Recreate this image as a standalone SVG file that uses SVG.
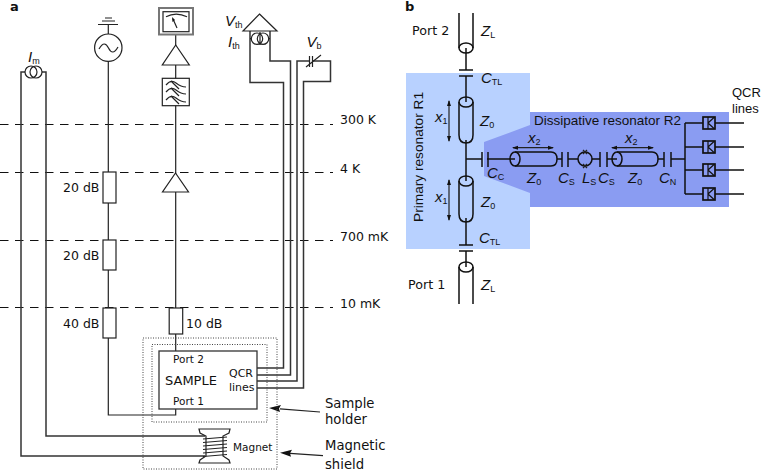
<svg xmlns="http://www.w3.org/2000/svg" width="763" height="471" viewBox="0 0 763 471">
<style>
text{font-family:"DejaVu Sans",sans-serif;fill:#111}
.l{font-size:12.500px}
.m{font-size:13.200px}
.h{font-family:"Liberation Sans",Arial,sans-serif;font-size:13px}
.i{font-family:"Liberation Sans",Arial,sans-serif;font-style:italic;font-size:15px}
.s{font-family:"Liberation Sans",Arial,sans-serif;font-size:9px;font-style:normal}
.p{font-weight:bold;font-size:13px}
.w{fill:none;stroke:#222;stroke-width:1.200}
.g{fill:none;stroke:#333;stroke-width:1.500}
.b{fill:none;stroke:#111;stroke-width:1.500}
.bx{fill:#fff;stroke:#222;stroke-width:1.200}
.dash{fill:none;stroke:#111;stroke-width:1;stroke-dasharray:8.500 6.500}
.dot{fill:none;stroke:#444;stroke-width:1;stroke-dasharray:1 1.500}
.t{fill:none;stroke:#111;stroke-width:1.500}
</style>
<defs>
<g id="jj"><rect x="-6" y="-6" width="12" height="12" fill="none" stroke="#111" stroke-width="1.700"/><path d="M-1 -6V6M-1 0L5 -5.500M-1 0L5 5.500" fill="none" stroke="#111" stroke-width="1.200"/></g>
</defs>
<rect id="bg" width="763" height="471" fill="#fff"/>
<text class="p" x="10" y="11">a</text>
<text class="p" x="405" y="11">b</text>
<g id="stages">
<path class="dash" d="M0 124.500H333M0 172.500H333M0 240.500H333M0 307.500H333"/>
<text class="l" x="340" y="124">300 K</text>
<text class="l" x="340" y="173">4 K</text>
<text class="l" x="340" y="241">700 mK</text>
<text class="l" x="340" y="308">10 mK</text>
</g>
<g id="connectors">
<path class="g" d="M25 72H21V456H205M42 72H46V436H205"/>
<path class="w" d="M108.300 25V415H175.700V409M175.700 34V351"/>
<path class="g" d="M257 368H283.500V82.500H250V31M257 375H290.500V61H270V31"/>
<path class="g" d="M257 381H297V61H330.500V81.500H303.500V388H257"/>
</g>
<g id="arrows">
<path class="w" d="M320 412L280 408.800M323 455.700L290 453.300"/>
<path d="M269 408L281 405L279 408.500L280 412Z" fill="#111"/>
<path d="M280 452.700L292 449.700L290 453.200L291 456.700Z" fill="#111"/>
</g>
<g id="current-source-m"><circle class="w" cx="31" cy="72" r="6"/><circle class="w" cx="36" cy="72" r="6"/><text class="i" x="28" y="62">I<tspan class="s" dy="2">m</tspan></text></g>
<g id="ac-source">
<path class="w" d="M105 18H112M102 21H115M98 24.500H118"/>
<circle class="bx" cx="108.300" cy="47.700" r="13.700"/><path class="w" d="M99 49C103 42 106 43 108.500 48S114 54 118 47"/>
</g>
<g id="meter">
<rect x="159" y="8" width="34" height="26.500" fill="#fff" stroke="#777" stroke-width="2"/><rect x="163" y="11.700" width="26" height="20" fill="none" stroke="#222" stroke-width="1.200"/>
<path class="w" d="M166 16.700Q176 11.500 187 16.700M177 28L173 19"/><path d="M172 17L175 20L172.500 22Z" fill="#111"/>
</g>
<g id="amp-1"><path class="bx" d="M175.700 45L189.300 65H162.300Z"/></g>
<g id="filter"><rect class="bx" x="162.300" y="78.300" width="27" height="27.400"/><path class="w" d="M166 85Q171 79 176 83T186 87M166 92Q171 86 176 90T186 94M166 100Q171 94 176 98T186 102M171 81L179 89M171 88L179 96M171 96L179 104"/></g>
<g id="amp-2"><path class="bx" d="M175.500 173L188.500 192H162.500Z"/></g>
<g id="att-1"><rect class="bx" x="103" y="172" width="13" height="31"/><text class="l" x="63" y="192">20 dB</text></g>
<g id="att-2"><rect class="bx" x="103" y="240" width="13" height="30"/><text class="l" x="63" y="260">20 dB</text></g>
<g id="att-3"><rect class="bx" x="103" y="308" width="13" height="30"/><text class="l" x="63" y="328">40 dB</text></g>
<g id="att-4"><rect class="bx" x="169.200" y="308" width="13.500" height="26"/><text class="l" x="186" y="327.500">10 dB</text></g>
<g id="v-th"><path class="bx" d="M259.500 14L277 31H243Z"/><circle class="w" cx="257" cy="38.700" r="5.700"/><circle class="w" cx="263" cy="38.700" r="5.700"/><path class="w" d="M250 38.700H251.300M268.700 38.700H270M260 32V45"/>
<text class="i" x="225" y="26">V<tspan class="s" dy="2">th</tspan></text><text class="i" x="228" y="47">I<tspan class="s" dy="2">th</tspan></text></g>
<g id="v-b"><path d="M309.500 61H313" stroke="#fff" stroke-width="3"/><path class="w" d="M309.500 56V67M312.500 56V67M306 67L321 55"/><text class="i" x="306.500" y="47">V<tspan class="s" dy="2">b</tspan></text></g>
<g id="shield"><rect class="dot" x="143" y="338" width="134" height="131"/><text class="m" x="325" y="450">Magnetic</text><text class="m" x="325" y="469">shield</text></g>
<g id="holder"><rect class="dot" x="152" y="344.500" width="115" height="77.500"/><text class="m" x="325" y="408">Sample</text><text class="m" x="325" y="424">holder</text></g>
<g id="sample"><rect x="159" y="351" width="98" height="58" fill="#fff" stroke="#333" stroke-width="1.300"/>
<text x="173" y="363" style="font-size:10.500px">Port 2</text><text x="173" y="405" style="font-size:10.500px">Port 1</text><text x="165" y="385" style="font-size:13px">SAMPLE</text><text x="229" y="377" style="font-size:11px">QCR</text><text x="229" y="391" style="font-size:11px">lines</text></g>
<g id="magnet"><path class="w" d="M199 429H230L229 433L223 436V456L229 460L230 463H199L200 460L206 456V436L200 433Z" fill="#fff"/><path class="w" d="M203 439L227 437M203 442.500L227 440.500M203 446L227 444M203 449.500L227 447.500M203 453L227 451M203 456.500L227 454.500"/><text x="233" y="451" style="font-size:10.500px">Magnet</text></g>

<g id="resonator-bg">
<rect x="406" y="73" width="124" height="176" fill="#b8d1ff"/>
<path d="M530 112H729V207H530V193L484 176V142L530 125Z" fill="#8a9cf2"/>
</g>
<g id="connectors-b">
<path class="b" d="M466 48V70M466 76V102M466 140V181M466 218V245M466 251V267M466 159H482M487 159H515M568 159H578M592 159H600M607 159H617M671 159H685M685 123V194"/>
<path class="b" d="M685 123H703M715 123H744M685 147H703M715 147H744M685 170H703M715 170H744M685 194H703M715 194H744"/>
</g>
<g id="port-2"><path class="t" d="M459 13V48M473 13V48"/><ellipse class="t" cx="466" cy="48" rx="7" ry="5"/><text x="412" y="35" style="font-size:12.700px">Port 2</text><text class="i" x="481" y="36">Z<tspan class="s" dy="2">L</tspan></text></g>
<g id="c-tl-top"><path class="b" d="M459 70H473M459 76H473"/><text class="i" x="481" y="83">C<tspan class="s" dy="2">TL</tspan></text></g>
<g id="res-top"><path class="t" d="M459 102V135Q459 143 466 143T473 135V102"/><ellipse class="t" cx="466" cy="102" rx="7" ry="5"/><path class="w" d="M449 101V141"/><path d="M449 100L451 106H447ZM449 142L451 136H447Z" fill="#111"/><text class="i" x="435" y="122">x<tspan class="s" dy="2">1</tspan></text><text class="i" x="480" y="126">Z<tspan class="s" dy="2">0</tspan></text></g>
<g id="res-bottom"><path class="t" d="M459 181V214Q459 222 466 222T473 214V181"/><ellipse class="t" cx="466" cy="181" rx="7" ry="5"/><path class="w" d="M449 180V220"/><path d="M449 179L451 185H447ZM449 221L451 215H447Z" fill="#111"/><text class="i" x="435" y="202">x<tspan class="s" dy="2">1</tspan></text><text class="i" x="481" y="207">Z<tspan class="s" dy="2">0</tspan></text></g>
<g id="c-tl-bottom"><path class="b" d="M459 245H473M459 251H473"/><text class="i" x="479" y="243">C<tspan class="s" dy="2">TL</tspan></text></g>
<g id="port-1"><path class="t" d="M459 267V304M473 267V304"/><ellipse class="t" cx="466" cy="267" rx="7" ry="5"/><text x="408" y="289" style="font-size:12.700px">Port 1</text><text class="i" x="481" y="290">Z<tspan class="s" dy="2">L</tspan></text></g>
<g id="c-c"><path class="b" d="M482 152V167M488 152V167"/><text class="i" x="487" y="178">C<tspan class="s" dy="2">C</tspan></text></g>
<g id="r1-label"><text class="h" transform="translate(423 222) rotate(-90)" style="font-size:13.700px">Primary resonator R1</text></g>
<g id="r2-label"><text class="h" x="534" y="125" style="font-size:13.500px">Dissipative resonator R2</text></g>
<g id="res-2a"><path class="t" d="M515 152H551Q557 152 557 159T551 166H515"/><ellipse class="t" cx="515" cy="159" rx="5" ry="7"/><path class="w" d="M513 147.700H553"/><path d="M512 147.700L518 145.700V149.700ZM554 147.700L548 145.700V149.700Z" fill="#111"/><text class="i" x="528" y="143">x<tspan class="s" dy="2">2</tspan></text><text class="i" x="527" y="183">Z<tspan class="s" dy="2">0</tspan></text></g>
<g id="c-s-1"><path class="b" d="M562 152V167M568 152V167M557 159H562"/><text class="i" x="558" y="183">C<tspan class="s" dy="2">S</tspan></text></g>
<g id="l-s"><circle class="t" cx="585" cy="159" r="7"/><path class="w" d="M583 150L587 154M587 150L583 154M583 164L587 168M587 164L583 168"/><text class="i" x="582" y="183">L<tspan class="s" dy="2">S</tspan></text></g>
<g id="c-s-2"><path class="b" d="M600 152V167M607 152V167"/><text class="i" x="598" y="183">C<tspan class="s" dy="2">S</tspan></text></g>
<g id="res-2b"><path class="t" d="M617 152H652Q658 152 658 159T652 166H617"/><ellipse class="t" cx="617" cy="159" rx="5" ry="7"/><path class="w" d="M612 147.700H653"/><path d="M611 147.700L617 145.700V149.700ZM654 147.700L648 145.700V149.700Z" fill="#111"/><text class="i" x="625" y="143">x<tspan class="s" dy="2">2</tspan></text><text class="i" x="628" y="183">Z<tspan class="s" dy="2">0</tspan></text></g>
<g id="c-n"><path class="b" d="M664 152V167M671 152V167M658 159H664"/><text class="i" x="659" y="183">C<tspan class="s" dy="2">N</tspan></text></g>
<g id="qcr-1"><use href="#jj" x="709" y="123"/></g>
<g id="qcr-2"><use href="#jj" x="709" y="147"/></g>
<g id="qcr-3"><use href="#jj" x="709" y="170"/></g>
<g id="qcr-4"><use href="#jj" x="709" y="194"/></g>
<g id="qcr-label"><text class="h" x="732" y="97">QCR</text><text class="h" x="732" y="113">lines</text></g>
</svg>
